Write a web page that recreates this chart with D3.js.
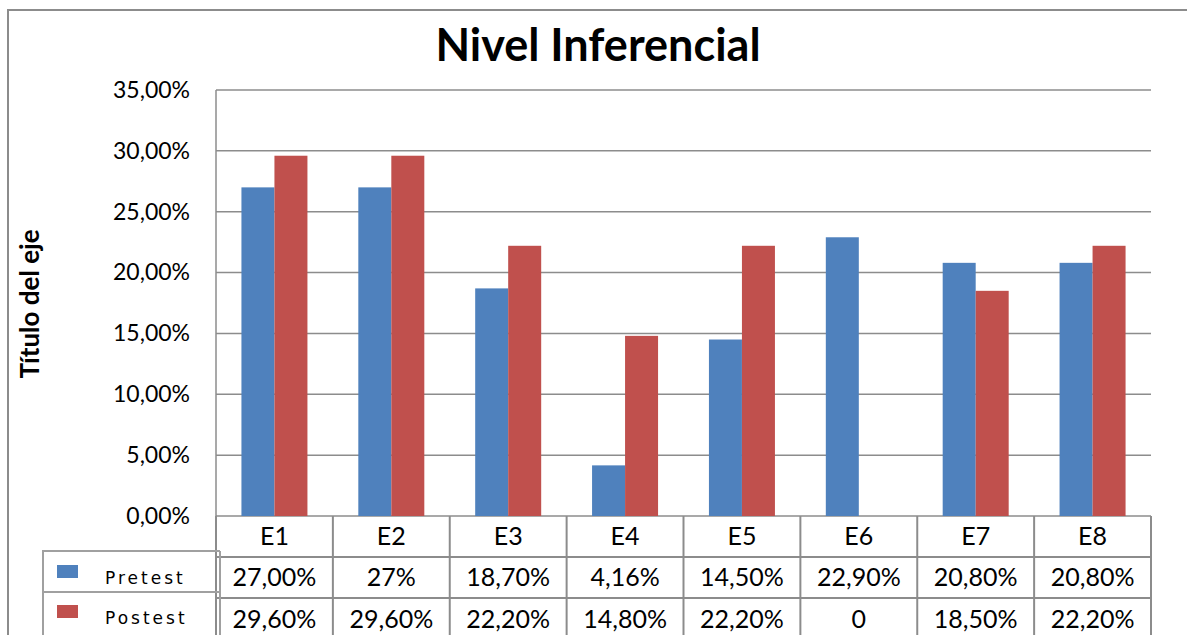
<!DOCTYPE html>
<html><head><meta charset="utf-8">
<script src="https://cdn.jsdelivr.net/npm/d3@7/dist/d3.min.js"></script>
<style>body{margin:0;background:#fff;}svg{display:block;}</style>
</head><body>
<svg id="c" width="1187" height="635"></svg>
<script>
const categories = ["E1","E2","E3","E4","E5","E6","E7","E8"];
const pretest = [27.00, 27.00, 18.70, 4.16, 14.50, 22.90, 20.80, 20.80];
const postest = [29.60, 29.60, 22.20, 14.80, 22.20, 0, 18.50, 22.20];
const pretestLabels = ["27,00%","27%","18,70%","4,16%","14,50%","22,90%","20,80%","20,80%"];
const postestLabels = ["29,60%","29,60%","22,20%","14,80%","22,20%","0","18,50%","22,20%"];
const yTicks = [0,5,10,15,20,25,30,35];
const seriesNames = ["Pretest","Postest"];
const colors = ["#4F81BD","#C0504D"];

const svg = d3.select("#c");
const L=216, R=1151, T=90, B=516;
const font = "Lato, 'Open Sans', sans-serif";
const grid = "#8c8c8c";

// outer border
svg.append("path").attr("d","M8,636 V10 H1190").attr("fill","none").attr("stroke",grid).attr("stroke-width",2);

const x = d3.scaleBand().domain(categories).range([L,R]);
const y = d3.scaleLinear().domain([0,35]).range([B,T]);

// gridlines
svg.append("g").selectAll("line").data(yTicks).join("line")
  .attr("x1",L).attr("x2",R).attr("y1",d=>y(d)).attr("y2",d=>y(d))
  .attr("stroke",grid).attr("stroke-width",1.5);
svg.append("line").attr("x1",L).attr("x2",L).attr("y1",T).attr("y2",B).attr("stroke",grid).attr("stroke-width",1.5);

// y axis labels
const yAxis = d3.axisLeft(y).tickValues(yTicks).tickSize(0).tickPadding(0)
  .tickFormat(d=>d3.format(".2f")(d).replace(".",",")+"%");
const ya = svg.append("g").attr("transform","translate(190,0)").call(yAxis);
ya.select(".domain").remove();
ya.selectAll("text").attr("font-family",font).attr("font-size",23).attr("fill","#000");

// bars
const bw = 33;
const series = [pretest, postest];
series.forEach((vals,si)=>{
  svg.append("g").selectAll("rect").data(vals).join("rect")
    .attr("x",(d,i)=>x(categories[i])+x.bandwidth()/2 + (si===0?-bw:0))
    .attr("y",d=>y(d)).attr("width",bw).attr("height",d=>B-y(d))
    .attr("fill",colors[si]);
});

// title
svg.append("text").attr("x",598).attr("y",61).attr("text-anchor","middle")
  .attr("font-family",font).attr("font-weight","bold").attr("font-size",45).text("Nivel Inferencial");
// y title
svg.append("text").attr("transform","translate(39,304) rotate(-90)").attr("text-anchor","middle")
  .attr("font-family",font).attr("font-weight","bold").attr("font-size",26).text("Título del eje");

// data table
const rows = [B, 557, 598, 640];
const tg = svg.append("g");
tg.selectAll("line.h").data([557,598]).join("line")
  .attr("x1",L).attr("x2",R).attr("y1",d=>d).attr("y2",d=>d).attr("stroke",grid).attr("stroke-width",2);
const bounds = categories.map(c=>x(c)).concat([R]);
tg.selectAll("line.v").data(bounds).join("line")
  .attr("x1",d=>d).attr("x2",d=>d).attr("y1",B).attr("y2",640).attr("stroke",grid).attr("stroke-width",2);
const rowTexts = [categories, pretestLabels, postestLabels];
rowTexts.forEach((arr,ri)=>{
  tg.append("g").selectAll("text").data(arr).join("text")
    .attr("x",(d,i)=>x(categories[i])+x.bandwidth()/2)
    .attr("y",(rows[ri]+rows[ri+1])/2+8.5)
    .attr("text-anchor","middle").attr("font-family",font).attr("font-size",25).attr("fill","#000")
    .text(d=>d);
});

// legend box
const lg = svg.append("g");
lg.append("path").attr("d","M220,551 H43 V640 M43,592 H220 M220,551 V640").attr("fill","none").attr("stroke","#a0a0a0").attr("stroke-width",2);
seriesNames.forEach((n,i)=>{
  lg.append("rect").attr("x",57).attr("y",565+i*40).attr("width",21).attr("height",13).attr("fill",colors[i]);
  lg.append("text").attr("x",105).attr("y",584+i*40).attr("font-family","Verdana, 'DejaVu Sans', sans-serif")
    .attr("font-size",17).attr("letter-spacing",3).attr("fill","#000").text(n);
});
</script>
</body></html>
